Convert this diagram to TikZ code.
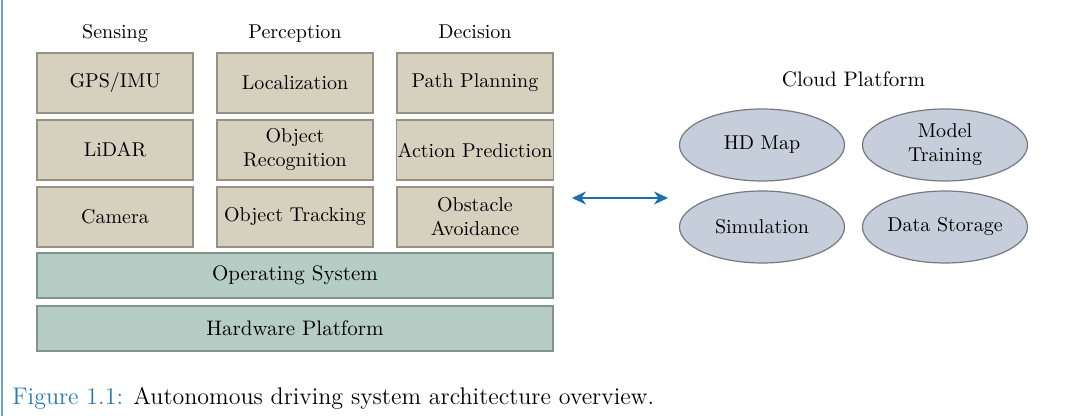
\documentclass[tikz,border=0pt]{standalone}
\usepackage{tikz}
\usetikzlibrary{positioning, calc, arrows.meta, shapes.geometric}

\definecolor{tanfill}{RGB}{214,208,191}
\definecolor{tanline}{RGB}{150,145,130}
\definecolor{osfill}{RGB}{181,205,197}
\definecolor{osline}{RGB}{128,148,141}
\definecolor{cloudfill}{RGB}{198,205,219}
\definecolor{cloudline}{RGB}{118,121,128}
\definecolor{linkblue}{RGB}{28,110,178}
\definecolor{figblue}{RGB}{38,120,176}
\definecolor{barblue}{RGB}{105,162,214}

\begin{document}
\begin{tikzpicture}[
    x=0.5pt, y=-0.5pt,
    node distance=3.5pt and 12pt,
    module/.style={rectangle, draw=tanline, fill=tanfill, line width=0.7pt, outer sep=0pt, inner sep=0.5pt, text centered, minimum width=78pt, minimum height=30pt, font=\fontsize{10}{12}\selectfont, align=center},
    layer/.style={rectangle, draw=osline, fill=osfill, line width=0.7pt, outer sep=0pt, minimum width=258pt, minimum height=22.5pt, font=\fontsize{10.5}{12}\selectfont},
    service/.style={ellipse, draw=cloudline, fill=cloudfill, line width=0.6pt, outer sep=0pt, inner sep=0pt, minimum width=82.5pt, minimum height=36pt, align=center, font=\fontsize{10}{12}\selectfont},
    header/.style={font=\fontsize{10}{12}\selectfont, text height=1.6ex, text depth=0.4ex},
    arrow/.style={line width=1pt, draw=linkblue, {Stealth[length=7pt,width=6.5pt]}-{Stealth[length=7pt,width=6.5pt]}}
]
\useasboundingbox (0,0) rectangle (1078,416);

% ---------- 左侧蓝线 ----------
\draw[barblue, line width=1.2pt] (2,0) -- (2,416);

% ---------- 节点 ----------
% 第一列: Sensing
\node (gps) [module] at (115,83) {GPS/IMU};
\node (lidar) [module, below=of gps] {LiDAR};
\node (camera) [module, below=of lidar] {Camera};

% 第二列: Perception
\node (local) [module, right=of gps] {Localization};
\node (recog) [module, below=of local] {Object\\Recognition};
\node (track) [module, below=of recog] {Object Tracking};

% 第三列: Decision
\node (path) [module, right=of local] {Path Planning};
\node (predict) [module, below=of path] {Action Prediction};
\node (avoid) [module, below=of predict] {Obstacle\\Avoidance};

% 底层
\node (os) [layer, below=3pt of track] {Operating System};
\node (hw) [layer, below=4pt of os] {Hardware Platform};

% 列标题
\node (sensing) [header, above=2pt of gps] {Sensing};
\node (perception) [header, above=2pt of local] {Perception};
\node (decision) [header, above=2pt of path] {Decision};

% 云平台
\node (hdmap) [service] at (762,145) {HD Map};
\node (training) [service, right=9pt of hdmap] {Model\\Training};
\node (sim) [service, below=5pt of hdmap] {Simulation};
\node (storage) [service, below=5pt of training] {Data Storage};
\node (cloud) [header, font=\fontsize{10.5}{12}\selectfont] at ($(hdmap.north)!0.5!(training.north)+(0,14pt)$) {Cloud Platform};

% ---------- 双向箭头 ----------
\coordinate (linkL) at (572,198);
\coordinate (linkR) at (668,198);
\draw [arrow] (linkL) -- (linkR);

% ---------- 图题 ----------
\node (caption) [anchor=west, inner sep=0pt, font=\fontsize{12}{14}\selectfont] at (12,398)
  {\textcolor{figblue}{Figure 1.1:} Autonomous driving system architecture overview.};

\end{tikzpicture}
\end{document}
